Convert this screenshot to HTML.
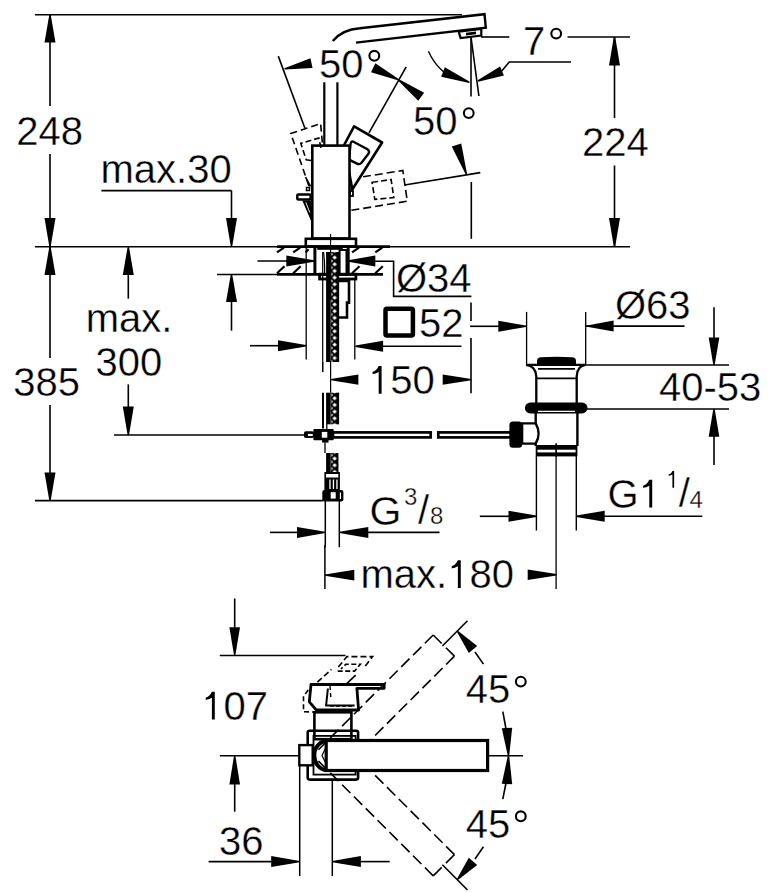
<!DOCTYPE html>
<html><head><meta charset="utf-8"><style>html,body{margin:0;padding:0;background:#fff;}svg{display:block}text{font-family:"Liberation Sans",sans-serif;fill:#000;stroke:#fff;stroke-width:0.35px}</style></head>
<body><svg width="775" height="892" viewBox="0 0 775 892" stroke="#000" stroke-linecap="butt">
<line x1="50" y1="15" x2="50" y2="106" stroke-width="1.6" />
<line x1="50" y1="154" x2="50" y2="246" stroke-width="1.6" />
<polygon points="49.30,14.70 44.50,42.60 55.50,42.60 50.70,14.70" fill="#000" stroke="none"/>
<polygon points="50.70,246.60 55.50,218.00 44.50,218.00 49.30,246.60" fill="#000" stroke="none"/>
<text x="16.3" y="145" font-size="40" text-anchor="start" >248</text>
<line x1="35" y1="246.8" x2="630" y2="246.8" stroke-width="1.6" />
<line x1="50" y1="247" x2="50" y2="358" stroke-width="1.6" />
<line x1="50" y1="405" x2="50" y2="500.5" stroke-width="1.6" />
<polygon points="49.30,247.00 44.50,275.00 55.50,275.00 50.70,247.00" fill="#000" stroke="none"/>
<polygon points="50.70,500.50 55.50,472.40 44.50,472.40 49.30,500.50" fill="#000" stroke="none"/>
<text x="13.3" y="396" font-size="40" text-anchor="start" >385</text>
<line x1="35" y1="500.6" x2="323" y2="500.6" stroke-width="1.6" />
<text x="100.5" y="182.5" font-size="40" text-anchor="start" >max.30</text>
<line x1="101.4" y1="190.6" x2="231.5" y2="190.6" stroke-width="1.6" />
<line x1="231.5" y1="190.6" x2="231.5" y2="240" stroke-width="1.6" />
<polygon points="232.20,246.60 237.00,218.00 226.00,218.00 230.80,246.60" fill="#000" stroke="none"/>
<polygon points="230.80,274.50 226.00,302.00 237.00,302.00 232.20,274.50" fill="#000" stroke="none"/>
<line x1="231.5" y1="300" x2="231.5" y2="330.6" stroke-width="1.6" />
<text x="85.8" y="331.6" font-size="40" text-anchor="start" >max.</text>
<text x="95.5" y="376" font-size="40" text-anchor="start" >300</text>
<polygon points="127.60,247.00 122.80,275.00 133.80,275.00 129.00,247.00" fill="#000" stroke="none"/>
<line x1="128.3" y1="270" x2="128.3" y2="298.7" stroke-width="1.6" />
<line x1="128.3" y1="384.4" x2="128.3" y2="410" stroke-width="1.6" />
<polygon points="129.00,435.00 133.80,406.60 122.80,406.60 127.60,435.00" fill="#000" stroke="none"/>
<line x1="114" y1="435" x2="305" y2="435" stroke-width="1.6" />
<path d="M332.8,41 Q342,29.5 360,28.2 L484.5,14.2 L485.8,27.7 L356,42.6" fill="none" stroke-width="2.4" />
<polygon points="458.7,31.6 481.3,29 481.3,35.5 460.6,38" fill="none" stroke-width="2.2" />
<polygon points="466,32.8 476,31.6 476,34.2 466,35.4" fill="#000" stroke-width="0" stroke="none"/>
<line x1="35" y1="14.7" x2="462" y2="14.7" stroke-width="1.6" />
<line x1="324.3" y1="82.3" x2="324.3" y2="145" stroke-width="2.2" />
<line x1="337.4" y1="82.3" x2="337.4" y2="145" stroke-width="2.2" />
<polygon points="344.1,145 354.1,126.3 382.1,142.5 352.3,189.5" fill="none" stroke-width="2.6" stroke-linejoin="round" fill="#fff"/>
<path d="M353,141.6 L367.4,149.2 Q370,151 368.6,153.5 L361.5,162.8 Q359.8,165 357,163.6 L351,160.6 Q349,159.6 349.3,157 L350.6,144 Q351,141 353,141.6 Z" fill="none" stroke-width="2.3" />
<rect x="312.3" y="145.6" width="37.19999999999999" height="92.9" rx="0" fill="#fff" stroke-width="2.6" />
<rect x="305.8" y="238.8" width="50.19999999999999" height="7.699999999999989" rx="0" fill="none" stroke-width="2.6" />
<polyline points="308.9,185.9 290.8,133.5 320.6,123.5 322.4,143.4" fill="none" stroke-width="1.6" stroke-dasharray="7,4"/>
<polyline points="311,160.5 306.2,159.7 300.8,143.4 318.8,138 321,148" fill="none" stroke-width="1.6" stroke-dasharray="6,3"/>
<rect x="297.3" y="194.4" width="13.300000000000011" height="5.0" rx="1" fill="none" stroke-width="2.5" />
<polygon points="302.3,200.5 311.5,200.5 311.5,222" fill="#000" stroke-width="0" stroke="none"/>
<line x1="305.8" y1="202.3" x2="309.8" y2="212.5" stroke-width="0.9" stroke="#fff"/>
<line x1="305.5" y1="177.1" x2="310.5" y2="186.5" stroke-width="1.6" />
<rect x="306.5" y="187.5" width="3.0" height="3.0" rx="0" fill="none" stroke-width="1.5" />
<rect x="350" y="191" width="3" height="5" rx="0" fill="none" stroke-width="1.8" />
<polyline points="351.4,210.3 407.3,201.2 402.8,170.5 363.1,176.8" fill="none" stroke-width="1.6" stroke-dasharray="8,4"/>
<polygon points="372.1,182.3 391.1,179.5 393.8,197.6 374.8,199.4" fill="none" stroke-width="1.6" stroke-dasharray="6,3"/>
<line x1="404.6" y1="185" x2="480.3" y2="172.6" stroke-width="1.6" />
<line x1="471.3" y1="182" x2="471.3" y2="238.8" stroke-width="1.6" />
<polygon points="467.06,174.08 461.24,143.40 451.76,146.60 465.74,174.52" fill="#000" stroke="none"/>
<text x="319" y="78" font-size="40" text-anchor="start" >50</text>
<circle cx="374.3" cy="55.8" r="4.9" fill="none" stroke-width="2.1"/>
<text x="413" y="134.8" font-size="40" text-anchor="start" >50</text>
<circle cx="468.75" cy="113.1" r="4.9" fill="none" stroke-width="2.1"/>
<line x1="278.3" y1="56.1" x2="305.1" y2="128.8" stroke-width="1.6" />
<polygon points="284.64,69.58 312.53,68.09 310.47,58.31 284.36,68.22" fill="#000" stroke="none"/>
<line x1="406.2" y1="66.8" x2="369" y2="132.9" stroke-width="1.6" />
<polygon points="398.30,78.87 375.35,63.19 371.05,72.21 397.70,80.13" fill="#000" stroke="none"/>
<polygon points="397.58,80.06 418.21,100.81 424.19,92.79 398.42,78.94" fill="#000" stroke="none"/>
<line x1="481" y1="37" x2="509.3" y2="37" stroke-width="1.6" />
<line x1="567.5" y1="37" x2="630" y2="37" stroke-width="1.6" />
<text x="523" y="55" font-size="40" text-anchor="start" >7</text>
<circle cx="556.2" cy="33.6" r="4.9" fill="none" stroke-width="2.1"/>
<line x1="471" y1="37" x2="471" y2="96.6" stroke-width="1.6" />
<line x1="471" y1="37" x2="478.9" y2="96" stroke-width="1.6" />
<path d="M428.4,51.2 Q438,72 455,78" fill="none" stroke-width="1.4" />
<polygon points="469.76,81.75 444.83,67.35 441.17,76.65 469.24,83.05" fill="#000" stroke="none"/>
<polygon points="478.27,81.65 503.92,75.62 500.08,66.38 477.73,80.35" fill="#000" stroke="none"/>
<polyline points="500,73 509.3,62 571,62" fill="none" stroke-width="1.6" />
<line x1="614.5" y1="37" x2="614.5" y2="118" stroke-width="1.6" />
<line x1="614.5" y1="165.5" x2="614.5" y2="246" stroke-width="1.6" />
<polygon points="613.80,37.00 609.00,65.50 620.00,65.50 615.20,37.00" fill="#000" stroke="none"/>
<polygon points="615.20,246.60 620.00,218.00 609.00,218.00 613.80,246.60" fill="#000" stroke="none"/>
<text x="582" y="156.2" font-size="40" text-anchor="start" >224</text>
<defs><pattern id="mesh" x="330.7" y="281" width="7.8" height="6.7" patternUnits="userSpaceOnUse"><rect width="7.8" height="6.7" fill="#000" stroke="none"/><polygon points="3.9,1.1 6.1,3.35 3.9,5.6 1.7,3.35" fill="#fff" stroke="none"/><polygon points="0.6,-2 2.2,0 0.6,2" fill="#fff" stroke="none"/><polygon points="0.6,4.7 2.2,6.7 0.6,8.7" fill="#fff" stroke="none"/></pattern></defs>
<line x1="277" y1="246.6" x2="390" y2="246.6" stroke-width="2.8" />
<line x1="217" y1="274.5" x2="277" y2="274.5" stroke-width="1.4" />
<line x1="277" y1="274.4" x2="383" y2="274.4" stroke-width="2.8" />
<line x1="277" y1="252.4" x2="284" y2="247.7" stroke-width="2.2" />
<line x1="277" y1="273.3" x2="284.5" y2="266.3" stroke-width="2.2" />
<line x1="293.2" y1="252.4" x2="300.2" y2="247.7" stroke-width="2.2" />
<line x1="293.2" y1="273.3" x2="300.7" y2="266.3" stroke-width="2.2" />
<line x1="352" y1="252.4" x2="359" y2="247.7" stroke-width="2.2" />
<line x1="352" y1="273.3" x2="359.5" y2="266.3" stroke-width="2.2" />
<line x1="375.3" y1="252.4" x2="382.3" y2="247.7" stroke-width="2.2" />
<line x1="375.3" y1="273.3" x2="382.8" y2="266.3" stroke-width="2.2" />
<line x1="305.6" y1="252.4" x2="308.5" y2="249.3" stroke-width="2.2" />
<line x1="314.9" y1="246" x2="314.9" y2="275" stroke-width="3" />
<line x1="348.2" y1="246" x2="348.2" y2="275" stroke-width="3" />
<line x1="317.2" y1="248.8" x2="342.8" y2="248.8" stroke-width="2" />
<rect x="319.6" y="274.2" width="36.299999999999955" height="4.800000000000011" rx="0" fill="none" stroke-width="2.8" />
<line x1="330.6" y1="234" x2="330.6" y2="300" stroke-width="1.1" />
<line x1="322.7" y1="252" x2="322.7" y2="372" stroke-width="1.2" />
<rect x="326.1" y="252" width="4.599999999999966" height="110" rx="0" fill="#000" stroke-width="0" stroke="none"/>
<rect x="330.7" y="252" width="7.800000000000011" height="110" rx="0" fill="url(#mesh)" stroke-width="0" stroke="none"/>
<line x1="338.5" y1="252" x2="338.5" y2="362" stroke-width="1.3" />
<path d="M339,281 L349,281 L349,302.6 L347,302.6 L347,317.5 L339,317.5" fill="none" stroke-width="2.6" />
<rect x="339.6" y="250" width="6.899999999999977" height="25" rx="0" fill="none" stroke-width="2" />
<path d="M323.5,252 Q325,262 324.5,274" fill="none" stroke-width="1.2" />
<line x1="306.2" y1="247" x2="306.2" y2="359.6" stroke-width="1.3" />
<line x1="354.8" y1="279" x2="354.8" y2="359.6" stroke-width="1.3" />
<line x1="257.4" y1="261" x2="290" y2="261" stroke-width="1.6" />
<polygon points="314.10,260.30 286.30,255.60 286.30,266.40 314.10,261.70" fill="#000" stroke="none"/>
<polygon points="348.20,261.70 375.30,266.40 375.30,255.60 348.20,260.30" fill="#000" stroke="none"/>
<polyline points="372,261.3 393.6,261.3 393.6,296.4 471.4,296.4" fill="none" stroke-width="1.6" />
<text x="396" y="291.5" font-size="40" text-anchor="start" >Ø34</text>
<rect x="385.5" y="308.7" width="27.399999999999977" height="26.69999999999999" rx="1.5" fill="none" stroke-width="4.5" />
<text x="419" y="337.3" font-size="40" text-anchor="start" >52</text>
<line x1="471" y1="302.5" x2="471" y2="321" stroke-width="1.6" />
<line x1="471" y1="338" x2="471" y2="393.2" stroke-width="1.6" />
<line x1="383" y1="346.2" x2="461.5" y2="346.2" stroke-width="1.6" />
<polygon points="355.40,346.90 383.10,351.70 383.10,340.70 355.40,345.50" fill="#000" stroke="none"/>
<line x1="250" y1="345.7" x2="280" y2="345.7" stroke-width="1.6" />
<polygon points="306.00,345.00 278.00,340.20 278.00,351.20 306.00,346.40" fill="#000" stroke="none"/>
<line x1="470" y1="326.3" x2="500" y2="326.3" stroke-width="1.6" />
<polygon points="526.00,325.60 498.30,320.80 498.30,331.80 526.00,327.00" fill="#000" stroke="none"/>
<path d="M381.59,393.8 V366.00 H378.69 C377.19,369.60 374.79,371.20 372.59,371.80 V374.10 C374.59,373.70 376.59,373.10 378.69,371.90 V393.8 Z" fill="#000" stroke="none"/>
<text x="368" y="393.8" font-size="40" text-anchor="start" > 50</text>
<polygon points="330.80,380.30 358.40,384.80 358.40,374.40 330.80,378.90" fill="#000" stroke="none"/>
<polygon points="471.40,378.90 442.70,374.40 442.70,384.80 471.40,380.30" fill="#000" stroke="none"/>
<line x1="330.6" y1="361" x2="330.6" y2="392.7" stroke-width="1.2" />
<line x1="322.7" y1="362" x2="322.7" y2="372" stroke-width="1.2" />
<line x1="323" y1="392.7" x2="323" y2="428.5" stroke-width="2" />
<rect x="326.1" y="392.7" width="4.599999999999966" height="31.600000000000023" rx="0" fill="#000" stroke-width="0" stroke="none"/>
<rect x="330.7" y="392.7" width="7.800000000000011" height="31.600000000000023" rx="0" fill="url(#mesh)" stroke-width="0" stroke="none"/>
<line x1="338.5" y1="392.7" x2="338.5" y2="424.3" stroke-width="1.2" />
<rect x="304" y="431.3" width="10" height="6.800000000000011" rx="1.8" fill="#000" stroke-width="0" stroke="none"/>
<rect x="307.9" y="433.9" width="4.800000000000011" height="2.2000000000000455" rx="0" fill="#fff" stroke-width="0" stroke="none"/>
<rect x="313.4" y="429" width="20.30000000000001" height="11.300000000000011" rx="1" fill="#000" stroke-width="0" stroke="none"/>
<rect x="321.8" y="431.9" width="5.5" height="5.800000000000011" rx="0" fill="#fff" stroke-width="0" stroke="none"/>
<rect x="322.1" y="440" width="6.399999999999977" height="2.6000000000000227" rx="0" fill="#000" stroke-width="0" stroke="none"/>
<line x1="326.8" y1="424" x2="326.8" y2="429.5" stroke-width="1.3" />
<rect x="333" y="432.4" width="97.69999999999999" height="5.0" rx="0" fill="none" stroke-width="2.7" />
<rect x="438.3" y="432.4" width="72.69999999999999" height="5.0" rx="0" fill="none" stroke-width="2.7" />
<line x1="325" y1="442.6" x2="325" y2="453" stroke-width="1.3" />
<rect x="326.1" y="453" width="4.599999999999966" height="19" rx="0" fill="#000" stroke-width="0" stroke="none"/>
<rect x="330.7" y="453" width="7.800000000000011" height="19" rx="0" fill="url(#mesh)" stroke-width="0" stroke="none"/>
<rect x="324.4" y="472" width="15.5" height="18.5" rx="0" fill="#000" stroke-width="0" stroke="none"/>
<rect x="326" y="474" width="12.300000000000011" height="3.5" rx="0" fill="#fff" stroke-width="0" stroke="none"/>
<rect x="329.3" y="479.5" width="1.3000000000000114" height="9.5" rx="0" fill="#fff" stroke-width="0" stroke="none"/>
<rect x="332.8" y="479.5" width="1.3000000000000114" height="9.5" rx="0" fill="#fff" stroke-width="0" stroke="none"/>
<rect x="336.3" y="479.5" width="1.3000000000000114" height="9.5" rx="0" fill="#fff" stroke-width="0" stroke="none"/>
<rect x="322.3" y="490" width="21.099999999999966" height="11.399999999999977" rx="2" fill="#000" stroke-width="0" stroke="none"/>
<rect x="330.7" y="492.2" width="5.0" height="6.400000000000034" rx="0" fill="#fff" stroke-width="0" stroke="none"/>
<rect x="339.8" y="492.5" width="1.1999999999999886" height="6.5" rx="0" fill="#fff" stroke-width="0" stroke="none"/>
<line x1="325.3" y1="501" x2="325.3" y2="547.2" stroke-width="1.5" />
<line x1="339.3" y1="501" x2="339.3" y2="547.2" stroke-width="1.5" />
<line x1="324.9" y1="545" x2="324.9" y2="589" stroke-width="1.5" />
<line x1="270" y1="532.4" x2="300" y2="532.4" stroke-width="1.6" />
<polygon points="325.30,531.70 297.00,526.90 297.00,537.90 325.30,533.10" fill="#000" stroke="none"/>
<polygon points="339.30,533.10 368.30,537.90 368.30,526.90 339.30,531.70" fill="#000" stroke="none"/>
<line x1="366" y1="532.4" x2="439.5" y2="532.4" stroke-width="1.6" />
<text x="369.5" y="524.5" font-size="41" text-anchor="start" >G</text>
<text x="404" y="505.3" font-size="24" text-anchor="start" >3</text>
<text x="418" y="524" font-size="40" text-anchor="start" >/</text>
<text x="430" y="523.9" font-size="24" text-anchor="start" >8</text>
<path d="M460.77,588.1 V560.30 H457.87 C456.37,563.90 453.97,565.50 451.77,566.10 V568.40 C453.77,568.00 455.77,567.40 457.87,566.20 V588.1 Z" fill="#000" stroke="none"/>
<text x="360.5" y="588.1" font-size="40" text-anchor="start" >max. 80</text>
<polygon points="324.90,575.80 354.30,580.40 354.30,569.80 324.90,574.40" fill="#000" stroke="none"/>
<polygon points="556.50,574.10 527.70,569.50 527.70,580.10 556.50,575.50" fill="#000" stroke="none"/>
<line x1="526.6" y1="311.9" x2="526.6" y2="364.7" stroke-width="1.3" />
<line x1="585.7" y1="311.9" x2="585.7" y2="364.7" stroke-width="1.3" />
<line x1="585.7" y1="326.1" x2="684.5" y2="326.1" stroke-width="1.6" />
<polygon points="587.00,326.80 613.60,331.60 613.60,320.60 587.00,325.40" fill="#000" stroke="none"/>
<text x="615" y="318.7" font-size="40" text-anchor="start" >Ø63</text>
<line x1="578" y1="365.1" x2="729" y2="365.1" stroke-width="1.5" />
<line x1="587" y1="409" x2="729" y2="409" stroke-width="1.5" />
<text x="659" y="400.6" font-size="40" text-anchor="start" >40-53</text>
<line x1="714" y1="307.3" x2="714" y2="340" stroke-width="1.6" />
<polygon points="714.70,365.00 719.30,337.40 708.70,337.40 713.30,365.00" fill="#000" stroke="none"/>
<polygon points="713.30,409.00 708.70,436.80 719.30,436.80 714.70,409.00" fill="#000" stroke="none"/>
<line x1="714" y1="430" x2="714" y2="465" stroke-width="1.6" />
<path d="M526,364.9 L585.7,364.9 Q577,366 576.7,376.3 L576.7,403 M526,364.9 Q535.8,366 536.3,376.3 L536.3,403" fill="none" stroke-width="2.3" />
<path d="M537,364.9 L537,361 Q537,357.5 541,357.3 Q556.5,356 572,357.3 Q576,357.5 576,361 L576,364.9 Z" fill="#000" stroke-width="0" stroke="none"/>
<line x1="538" y1="368.9" x2="575" y2="368.9" stroke-width="1.8" />
<line x1="537" y1="378.4" x2="576" y2="378.4" stroke-width="1.8" />
<rect x="524.9" y="402.6" width="62.60000000000002" height="10.799999999999955" rx="5.4" fill="#000" stroke-width="0" stroke="none"/>
<line x1="538" y1="411.3" x2="575" y2="411.3" stroke-width="1.2" stroke="#fff"/>
<path d="M535.7,413 L535.7,423.4 Q541.5,433.5 535.7,443.6 L535.7,446 M577.4,413 L577.4,446" fill="none" stroke-width="2.4" />
<polyline points="535.7,423.4 522.2,423.4 522.2,443.6 535.7,443.6" fill="none" stroke-width="2.2" />
<rect x="509.4" y="421.4" width="12.800000000000068" height="26.30000000000001" rx="3.5" fill="#000" stroke-width="0" stroke="none"/>
<rect x="535.7" y="445" width="41.69999999999993" height="11.399999999999977" rx="0" fill="#000" stroke-width="0" stroke="none"/>
<rect x="537.5" y="449.7" width="38.10000000000002" height="2.6999999999999886" rx="0" fill="#fff" stroke-width="0" stroke="none"/>
<line x1="556.3" y1="443.6" x2="556.3" y2="457" stroke-width="1.3" />
<line x1="536.4" y1="456" x2="536.4" y2="530.5" stroke-width="1.4" />
<line x1="576.3" y1="456" x2="576.3" y2="530.5" stroke-width="1.4" />
<line x1="556.1" y1="443.6" x2="556.1" y2="589" stroke-width="1.3" />
<line x1="479.8" y1="516.3" x2="510" y2="516.3" stroke-width="1.6" />
<polygon points="536.40,515.60 508.50,510.80 508.50,521.80 536.40,517.00" fill="#000" stroke="none"/>
<polygon points="576.30,517.00 604.70,521.80 604.70,510.80 576.30,515.60" fill="#000" stroke="none"/>
<line x1="600" y1="516.3" x2="702.3" y2="516.3" stroke-width="1.6" />
<path d="M652.20,507.6 V479.80 H649.30 C647.80,483.40 645.40,485.00 643.20,485.60 V487.90 C645.20,487.50 647.20,486.90 649.30,485.70 V507.6 Z" fill="#000" stroke="none"/>
<text x="607.5" y="507.6" font-size="40" text-anchor="start" >G </text>
<path d="M674.15,487.7 V471.02 H672.41 C671.51,473.18 670.07,474.14 668.75,474.50 V475.88 C669.95,475.64 671.15,475.28 672.41,474.56 V487.7 Z" fill="#000" stroke="none"/>
<text x="666" y="487.7" font-size="24" text-anchor="start" > </text>
<text x="678.8" y="507" font-size="40" text-anchor="start" >/</text>
<text x="689.5" y="507.6" font-size="24" text-anchor="start" >4</text>
<line x1="234.7" y1="598.5" x2="234.7" y2="630" stroke-width="1.6" />
<polygon points="235.40,655.00 240.00,627.20 229.40,627.20 234.00,655.00" fill="#000" stroke="none"/>
<line x1="219.8" y1="655.5" x2="345.5" y2="655.5" stroke-width="1.6" />
<path d="M214.79,719.6 V691.80 H211.89 C210.39,695.40 207.99,697.00 205.79,697.60 V699.90 C207.79,699.50 209.79,698.90 211.89,697.70 V719.6 Z" fill="#000" stroke="none"/>
<text x="201.2" y="719.6" font-size="40" text-anchor="start" > 07</text>
<polygon points="234.00,755.80 229.40,784.60 240.00,784.60 235.40,755.80" fill="#000" stroke="none"/>
<line x1="234.7" y1="780" x2="234.7" y2="811.7" stroke-width="1.6" />
<line x1="219.8" y1="755.8" x2="299.3" y2="755.8" stroke-width="1.6" />
<text x="219" y="854.6" font-size="40" text-anchor="start" >36</text>
<line x1="208.6" y1="861.6" x2="275" y2="861.6" stroke-width="1.6" />
<polygon points="299.70,860.90 271.20,856.10 271.20,867.10 299.70,862.30" fill="#000" stroke="none"/>
<polygon points="332.30,862.30 360.90,867.10 360.90,856.10 332.30,860.90" fill="#000" stroke="none"/>
<line x1="358" y1="861.6" x2="389.7" y2="861.6" stroke-width="1.6" />
<line x1="299.7" y1="765" x2="299.7" y2="876" stroke-width="1.5" />
<line x1="332.3" y1="779" x2="332.3" y2="876" stroke-width="1.5" />
<line x1="433.21" y1="634.98" x2="318.44" y2="749.74" stroke-width="1.6" stroke-dasharray="11.73,5"/>
<line x1="454.42" y1="656.19" x2="339.66" y2="770.96" stroke-width="1.6" stroke-dasharray="11.73,5"/>
<line x1="433.21" y1="634.98" x2="454.42" y2="656.19" stroke-width="1.6" stroke-dasharray="12.00,6"/>
<line x1="454.42" y1="854.61" x2="339.66" y2="739.84" stroke-width="1.6" stroke-dasharray="11.73,5"/>
<line x1="433.21" y1="875.82" x2="318.44" y2="761.06" stroke-width="1.6" stroke-dasharray="11.73,5"/>
<line x1="454.42" y1="854.61" x2="433.21" y2="875.82" stroke-width="1.6" stroke-dasharray="12.00,6"/>
<rect x="307.7" y="730.8" width="50.400000000000034" height="48.80000000000007" rx="2" fill="none" stroke-width="2.6" />
<rect x="313.5" y="735.9" width="42.10000000000002" height="38.700000000000045" rx="0" fill="none" stroke-width="1.8" />
<rect x="314.4" y="712.3" width="37.0" height="26.90000000000009" rx="0" fill="none" stroke-width="2.6" />
<rect x="299.3" y="745.1" width="13.399999999999977" height="20.199999999999932" rx="0" fill="#fff" stroke-width="2.4" />
<rect x="326.2" y="740.5" width="161.40000000000003" height="30.0" rx="0" fill="#fff" stroke-width="3.2" />
<path d="M326.8,741 A12.5,14.5 0 0 0 326.8,770" fill="none" stroke-width="4" />
<path d="M326.2,747 L322,755.5 L326.2,764" fill="none" stroke-width="1.2" />
<polygon points="311,684.5 384.2,684.5 384.2,688.3 356.9,688.3 358.6,710 316.3,710 309.3,701.9" fill="none" stroke-width="2.8" stroke-linejoin="round"/>
<polyline points="327.9,688.5 326.1,705.4 354.6,705.4" fill="none" stroke-width="2" />
<line x1="330" y1="706" x2="352" y2="706" stroke-width="1.4" stroke-dasharray="4,2"/>
<polyline points="338.3,667 347,656.6 372.6,656.6 364.5,667" fill="none" stroke-width="1.6" stroke-dasharray="6,3"/>
<polyline points="337.7,671.1 354.6,671.1 360.4,664.2 345.9,664.2 341,669" fill="none" stroke-width="1.6" stroke-dasharray="5,2.5"/>
<line x1="317.4" y1="682.2" x2="331.4" y2="669.4" stroke-width="1.6" stroke-dasharray="6,3"/>
<line x1="347" y1="683.3" x2="355.7" y2="675.2" stroke-width="1.6" />
<polyline points="317,712 303.5,711.8 303.5,696.1 309,689" fill="none" stroke-width="1.6" stroke-dasharray="5,3"/>
<line x1="330" y1="686" x2="331" y2="700" stroke-width="1.4" stroke-dasharray="4,3"/>
<line x1="489" y1="755.8" x2="523" y2="755.8" stroke-width="1.6" />
<line x1="502.8" y1="711.7" x2="506.2" y2="730" stroke-width="1.6" />
<polygon points="509.20,755.76 512.19,727.72 501.81,728.28 507.80,755.84" fill="#000" stroke="none"/>
<line x1="502.8" y1="799.2" x2="506.2" y2="782" stroke-width="1.6" />
<polygon points="507.80,755.76 501.81,783.72 512.19,784.28 509.20,755.84" fill="#000" stroke="none"/>
<text x="465.8" y="702.6" font-size="40" text-anchor="start" >45</text>
<circle cx="520.8" cy="681.6" r="4.9" fill="none" stroke-width="2.1"/>
<text x="465.8" y="837.6" font-size="40" text-anchor="start" >45</text>
<circle cx="520.8" cy="816.3" r="4.9" fill="none" stroke-width="2.1"/>
<line x1="467.5" y1="620.8" x2="442.4" y2="646" stroke-width="1.6" />
<line x1="475" y1="652" x2="483.4" y2="664.1" stroke-width="1.6" />
<polygon points="456.87,631.76 468.82,653.08 477.18,645.92 457.93,630.84" fill="#000" stroke="none"/>
<line x1="442.4" y1="864.8" x2="467.5" y2="890" stroke-width="1.6" />
<line x1="475" y1="859" x2="483.4" y2="846.7" stroke-width="1.6" />
<polygon points="457.93,879.96 477.18,864.88 468.82,857.72 456.87,879.04" fill="#000" stroke="none"/>
</svg></body></html>
